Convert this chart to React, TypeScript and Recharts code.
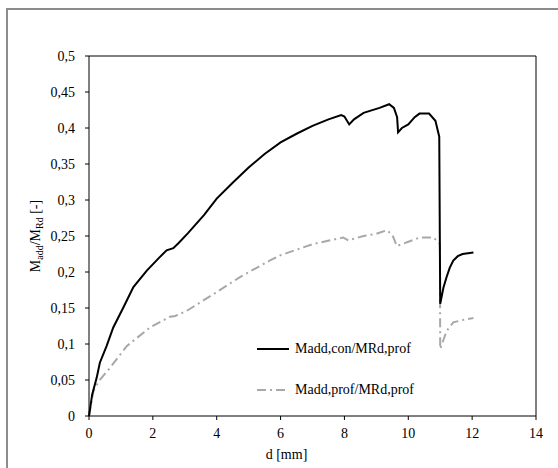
import React from "react";
import {
  LineChart,
  Line,
  XAxis,
  YAxis,
  ReferenceLine,
  Label,
} from "recharts";

// d [mm] and M_add/M_Rd
const conD = [
  0, 0.1, 0.24, 0.34, 0.55, 0.76, 1.08, 1.39, 1.81, 2.2, 2.43, 2.64, 2.8, 3.1,
  3.6, 4.0, 4.5, 5.0, 5.5, 6.0, 6.5, 7.0, 7.5, 7.9, 8.0, 8.15, 8.3, 8.6, 9.1,
  9.4, 9.55, 9.65, 9.68, 9.8, 10.0, 10.2, 10.35, 10.65, 10.85, 10.97, 11.0,
  11.1, 11.2, 11.3, 11.41, 11.55, 11.7, 12.04,
];
const conM = [
  0, 0.03, 0.053, 0.074, 0.097, 0.123, 0.151, 0.179, 0.202, 0.22, 0.23, 0.233,
  0.24, 0.254, 0.279, 0.302, 0.324, 0.345, 0.364, 0.38, 0.392, 0.403, 0.412,
  0.418, 0.416, 0.405, 0.412, 0.421, 0.428, 0.433, 0.428, 0.415, 0.394, 0.4,
  0.405, 0.415, 0.42, 0.42, 0.41, 0.388, 0.156, 0.178, 0.193, 0.206, 0.216,
  0.222, 0.225, 0.227,
];

const profD = [
  0, 0.14, 0.3, 0.66, 1.18, 1.91, 2.54, 2.7, 3.06, 3.89, 4.73, 5.67, 5.98,
  7.03, 7.96, 8.12, 8.6, 9.0, 9.32, 9.5, 9.64, 10.0, 10.37, 10.79, 10.99, 11.0,
  11.2, 11.41, 11.67, 12.04,
];
const profM = [
  0, 0.035, 0.048, 0.067, 0.097, 0.123, 0.138, 0.139, 0.146, 0.169, 0.193,
  0.216, 0.223, 0.239, 0.248, 0.244, 0.25, 0.253, 0.258, 0.252, 0.236, 0.242,
  0.248, 0.248, 0.239, 0.093, 0.118, 0.13, 0.133, 0.136,
];

const xTicks = [0, 2, 4, 6, 8, 10, 12, 14];
const yTicks = [0, 0.05, 0.1, 0.15, 0.2, 0.25, 0.3, 0.35, 0.4, 0.45, 0.5];

const conName = "Madd,con/MRd,prof";
const profName = "Madd,prof/MRd,prof";

const conData = conD.map((d, i) => ({ d, v: conM[i] }));
const profData = profD.map((d, i) => ({ d, v: profM[i] }));

const FONT = "'Liberation Serif', 'Times New Roman', serif";
const GRAY = "#a8a8a8";
const DASH = "9 4 2 4";

const fmt = (v: number) => String(v).replace(".", ",");

function YLabel(props: any) {
  const vb = props.viewBox;
  const cx = 40;
  const cy = vb.y + vb.height / 2;
  return (
    <text
      x={cx}
      y={cy}
      transform={`rotate(-90 ${cx} ${cy})`}
      textAnchor="middle"
      fontFamily={FONT}
      fontSize={14}
      fill="#000"
    >
      M
      <tspan fontSize={10} dy={3}>add</tspan>
      <tspan dy={-3}>/M</tspan>
      <tspan fontSize={10} dy={3}>Rd</tspan>
      <tspan dy={-3}> [-]</tspan>
    </text>
  );
}

// legend drawn outside the chart so it doesn't eat plot space
function LegendBox() {
  const row = (dash: string | undefined, color: string, text: string) => (
    <div style={{ display: "flex", alignItems: "center", height: 20 }}>
      <svg width={36} height={6} style={{ marginRight: 2 }}>
        <line
          x1={0}
          y1={3}
          x2={32}
          y2={3}
          stroke={color}
          strokeWidth={2}
          strokeDasharray={dash}
        />
      </svg>
      <span style={{ fontFamily: FONT, fontSize: 14, color: "#000" }}>{text}</span>
    </div>
  );
  return (
    <div style={{ position: "absolute", left: 257, top: 339 }}>
      {row(undefined, "#000", conName)}
      <div style={{ height: 21 }} />
      {row(DASH, GRAY, profName)}
    </div>
  );
}

export default function App() {
  return (
    <div
      style={{
        position: "absolute",
        left: 0,
        top: 0,
        width: 558,
        height: 468,
        overflow: "hidden",
        background: "#fff",
      }}
    >
      <div
        style={{
          position: "absolute",
          left: 6,
          top: 8,
          width: 620,
          height: 520,
          border: "2px solid #8c8c8c",
        }}
      />
      <div style={{ position: "absolute", left: 0, top: 0 }}>
        <LineChart
          width={558}
          height={468}
          margin={{ top: 56, right: 22, bottom: 0, left: 0 }}
        >
          <XAxis
            dataKey="d"
            type="number"
            domain={[0, 14]}
            ticks={xTicks}
            allowDuplicatedCategory={false}
            height={52}
            stroke="#000"
            tickSize={4}
            tickMargin={8}
            tick={{ fontFamily: FONT, fontSize: 14, fill: "#000" }}
          >
            <Label
              value="d [mm]"
              position="insideBottom"
              offset={9}
              dx={-26}
              style={{ fontFamily: FONT, fontSize: 14, fill: "#000" }}
            />
          </XAxis>
          <YAxis
            type="number"
            domain={[0, 0.5]}
            ticks={yTicks}
            width={89}
            stroke="#000"
            tickSize={4}
            tickMargin={10}
            tickFormatter={fmt}
            tick={{ fontFamily: FONT, fontSize: 14, fill: "#000" }}
          >
            <Label content={YLabel} />
          </YAxis>
          <ReferenceLine y={0.5} stroke="#000" strokeWidth={1} />
          <ReferenceLine x={14} stroke="#000" strokeWidth={1} />
          <Line
            data={profData}
            dataKey="v"
            name={profName}
            type="linear"
            stroke={GRAY}
            strokeWidth={2}
            strokeDasharray={DASH}
            dot={false}
            isAnimationActive={false}
          />
          <Line
            data={conData}
            dataKey="v"
            name={conName}
            type="linear"
            stroke="#000"
            strokeWidth={2}
            dot={false}
            isAnimationActive={false}
          />
        </LineChart>
      </div>
      <LegendBox />
    </div>
  );
}
